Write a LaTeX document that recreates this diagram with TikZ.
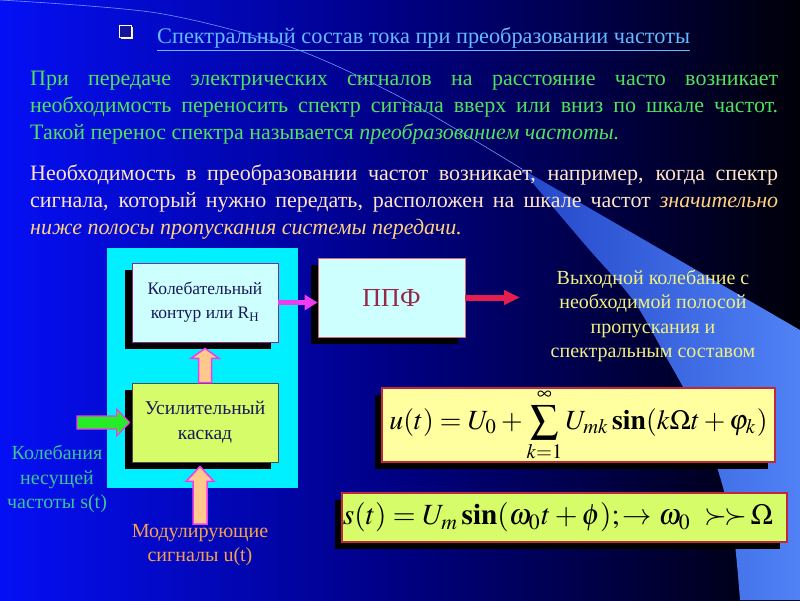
\documentclass[tikz,border=0pt]{standalone}
\usepackage{mathptmx}
\usepackage[no-math]{fontspec}
\setmainfont{Liberation Serif}
\usepackage{graphicx}
\usetikzlibrary{calc,arrows.meta,shadows}
\definecolor{bgleft}{RGB}{5,15,245}
\definecolor{bgmid}{RGB}{0,0,130}
\definecolor{bgright}{RGB}{0,0,8}
\definecolor{banddark}{RGB}{35,70,200}
\definecolor{bandlight}{RGB}{80,130,245}
\definecolor{thinline}{RGB}{110,150,255}
\definecolor{titlecol}{RGB}{100,185,255}
\definecolor{greentxt}{RGB}{80,225,95}
\definecolor{creamtxt}{RGB}{255,228,200}
\definecolor{italtxt}{RGB}{255,210,130}
\definecolor{panelcyan}{RGB}{0,240,255}
\definecolor{lightcyan}{RGB}{205,255,255}
\definecolor{limebox}{RGB}{215,252,105}
\definecolor{paleyellow}{RGB}{255,255,160}
\definecolor{boxtxt}{RGB}{25,25,90}
\definecolor{ppftxt}{RGB}{150,40,70}
\definecolor{magarrow}{RGB}{240,60,240}
\definecolor{redarrow}{RGB}{230,30,80}
\definecolor{peach}{RGB}{255,200,140}
\definecolor{greenarrow}{RGB}{40,235,40}
\definecolor{outyellow}{RGB}{240,240,130}
\definecolor{tealtxt}{RGB}{60,195,150}
\definecolor{orangetxt}{RGB}{245,160,80}
\definecolor{redborder}{RGB}{190,40,60}
\definecolor{bulletfill}{RGB}{20,20,150}
\definecolor{bulletshadow}{RGB}{255,240,180}
\begin{document}
\begin{tikzpicture}[x=1pt,y=-1pt,
  boxshadow/.style={drop shadow={shadow xshift=-7pt,shadow yshift=-7pt,fill=black,opacity=1}},
  blockbox/.style={boxshadow,inner sep=0pt,draw,line width=0.8pt,text=boxtxt,align=center,
    minimum width=146pt,minimum height=79pt},
  formbox/.style={boxshadow,inner sep=0pt,draw=redborder,line width=2pt},
  bodyline/.style={inner sep=0pt,anchor=base west,font=\fontsize{22}{27}\selectfont},
  parrow/.style={fill=peach,draw=magarrow,line width=1.5pt,line join=miter},
  garrow/.style={fill=greenarrow,draw=magarrow,line width=1.2pt,line join=miter},
  sidetext/.style={inner sep=0pt,align=center,font=\fontsize{20}{24.5}\selectfont}
]
\useasboundingbox (0,0) rectangle (800,600);
% background
\shade[left color=bgleft,right color=bgright,middle color=bgmid] (0,0) rectangle (800,600);
\shade[left color=banddark,right color=bandlight]
  plot[smooth] coordinates {(520,168) (587,247) (633,300) (665,355) (695,410) (717,467) (733,530) (740,600)}
  -- (800,600) -- (800,330) -- cycle;
\draw[thinline,line width=0.6pt] plot[smooth] coordinates {(0,0) (157,13) (290,47) (400,97) (522,169)};

% title
\node[draw=white,line width=1pt,fill=bulletfill,minimum size=12pt,inner sep=0pt,
  drop shadow={shadow xshift=2pt,shadow yshift=-2pt,fill=bulletshadow,opacity=1}] (bul) at (125,31) {};
\node[inner sep=0pt,anchor=base west,text=titlecol,font=\fontsize{22.3}{26}\selectfont] (title) at (157,43)
  {\underline{Спектральный состав тока при преобразовании частоты}};

% paragraphs
\node[bodyline,text=greentxt] (p1a) at (30,85) {\makebox[748pt][s]{При передаче электрических сигналов на расстояние часто возникает}};
\node[bodyline,text=greentxt] (p1b) at (30,112) {\makebox[748pt][s]{необходимость переносить спектр сигнала вверх или вниз по шкале частот.}};
\node[bodyline,text=greentxt] (p1c) at (30,139) {Такой перенос спектра называется \textit{преобразованием частоты.}};
\node[bodyline,text=creamtxt] (p2a) at (30,180) {\makebox[748pt][s]{Необходимость в преобразовании частот возникает, например, когда спектр}};
\node[bodyline,text=creamtxt] (p2b) at (30,207) {\makebox[748pt][s]{сигнала, который нужно передать, расположен на шкале частот \textcolor{italtxt}{\textit{значительно}}}};
\node[bodyline,text=italtxt] (p2c) at (30,234) {\textit{ниже полосы пропускания системы передачи.}};

% diagram
\node[fill=panelcyan,inner sep=0pt,minimum width=191pt,minimum height=240pt] (panel) at (202.5,368) {};
\node[blockbox,fill=lightcyan,draw=magarrow!60!black,font=\fontsize{17.5}{24}\selectfont] (b1) at (205,302.5)
  {Колебательный\\контур или R\textsubscript{Н}};
\node[blockbox,fill=limebox,draw=black!70,font=\fontsize{19.5}{25}\selectfont] (b2) at (205,422.5)
  {Усилительный\\каскад};
\node[boxshadow,fill=lightcyan,draw=redborder!70,line width=0.8pt,inner sep=0pt,
  minimum width=147pt,minimum height=79pt,text=ppftxt,font=\fontsize{26}{30}\selectfont] (ppf) at (391.5,297.5) {ППФ};

\draw[magarrow,line width=5.5pt,-{Triangle[length=13pt,width=15pt]}] (b1.east) -- (b1.east -| ppf.west);
\coordinate (outend) at (520,297.5);
\draw[redarrow,line width=6pt,-{Triangle[length=16pt,width=14pt]}] (ppf.east) -- (outend);

\node[sidetext,text=outyellow] (outtxt) at (653,316)
  {Выходной колебание с\\необходимой полосой\\пропускания и\\спектральным составом};

% up arrow between blocks
\coordinate (ua1t) at ($(b1.south)+(0,6)$);
\coordinate (ua1b) at (b2.north);
\draw[parrow] ($(ua1b)+(-6.5,0)$) -- ($(ua1t)+(-6.5,10)$) -- ($(ua1t)+(-14,10)$) -- (ua1t)
  -- ($(ua1t)+(14,10)$) -- ($(ua1t)+(6.5,10)$) -- ($(ua1b)+(6.5,0)$) -- cycle;

% left input
\node[sidetext,text=tealtxt,anchor=north] (carr) at (57,445) {Колебания\\несущей\\частоты s(t)};
\coordinate (gtail) at (77,422.5);
\coordinate (gtip) at ($(b2.west)+(-2,0)$);
\draw[garrow] ($(gtail)+(0,-6.5)$) -- ($(gtip)+(-13,-6.5)$) -- ($(gtip)+(-13,-13.5)$) -- (gtip)
  -- ($(gtip)+(-13,13.5)$) -- ($(gtip)+(-13,6.5)$) -- ($(gtail)+(0,6.5)$) -- cycle;

% bottom input
\node[sidetext,text=orangetxt,anchor=north] (mod) at (200,524) {Модулирующие\\сигналы u(t)};
\coordinate (ua2t) at ($(b2.south)+(-5,4)$);
\coordinate (ua2b) at (mod.north);
\draw[parrow] ($(ua2b)+(-7,0)$) -- ($(ua2t)+(-7,15)$) -- ($(ua2t)+(-14,15)$) -- (ua2t)
  -- ($(ua2t)+(14,15)$) -- ($(ua2t)+(7,15)$) -- ($(ua2b)+(7,0)$) -- cycle;

% formulas
\node[formbox,fill=paleyellow,minimum width=393pt,minimum height=74pt] (f1) at (578.5,425)
  {\raisebox{-2pt}{\resizebox{378pt}{!}{$\displaystyle u(t)=U_0+\sum_{k=1}^{\infty}U_{mk}\,\mathbf{sin}(k\Omega t+\varphi_k)$}}};
\node[formbox,fill=limebox,minimum width=445pt,minimum height=49pt] (f2) at (564.5,517.5)
  {\resizebox{430pt}{!}{$s(t)=U_m\,\mathbf{sin}(\omega_0 t+\phi);\rightarrow\omega_0\ \succ\!\succ\!\Omega$}\hspace*{13pt}};
\end{tikzpicture}
\end{document}
